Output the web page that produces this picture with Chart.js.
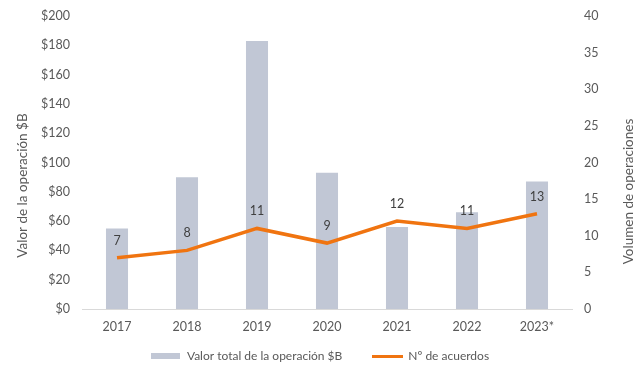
<!DOCTYPE html>
<html><head><meta charset="utf-8">
<script src="https://cdn.jsdelivr.net/npm/chart.js@4.4.0/dist/chart.umd.min.js"></script>
<style>html,body{margin:0;padding:0;background:#fff}#wrap{width:640px;height:378px}</style>
</head><body><div id="wrap"><canvas id="c" width="640" height="378"></canvas></div>
<script>
const categories = ['2017','2018','2019','2020','2021','2022','2023*'];
const dealValue = [55, 90, 183, 93, 56, 66, 87];
const dealCount = [7, 8, 11, 9, 12, 11, 13];
const leftTicks = [0,20,40,60,80,100,120,140,160,180,200];
const rightTicks = [0,5,10,15,20,25,30,35,40];
const leftTitle = 'Valor de la operación $B';
const rightTitle = 'Volumen de operaciones';

const BAR = '#C1C7D5', LINE = '#F07410', TXT = '#595959';
const FONT = 'Lato';

function swatch(w,h,color){const c=document.createElement('canvas');c.width=w;c.height=h;const x=c.getContext('2d');x.fillStyle=color;x.fillRect(0,0,w,h);return c;}
const barSw = swatch(29,6,BAR), lineSw = swatch(31,3,LINE);

const labelPlugin = {
  id:'lbl',
  afterDatasetsDraw(chart){
    const meta = chart.getDatasetMeta(0);
    const ctx = chart.ctx;
    ctx.save();
    ctx.font = '12.5px '+FONT; ctx.fillStyle='#404040'; ctx.textAlign='center'; ctx.textBaseline='bottom';
    meta.data.forEach((p,i)=>{ ctx.fillText(String(dealCount[i]), p.x, p.y-11); });
    ctx.restore();
  }
};
const titlePlugin = {
  id:'axtitles',
  afterDraw(chart){
    const ctx = chart.ctx, a = chart.chartArea;
    ctx.save();
    ctx.font = '13.5px '+FONT; ctx.fillStyle=TXT; ctx.textAlign='center'; ctx.textBaseline='middle';
    const yl = chart.scales.y, yr = chart.scales.y1;
    ctx.save(); ctx.translate(yl.left+23, (a.top+a.bottom)/2+23); ctx.rotate(-Math.PI/2); ctx.fillText(leftTitle,0,0); ctx.restore();
    ctx.save(); ctx.translate(yr.right-11, (a.top+a.bottom)/2+29); ctx.rotate(-Math.PI/2); ctx.fillText(rightTitle,0,0); ctx.restore();
    ctx.restore();
  }
};

new Chart(document.getElementById('c'),{
  data:{labels:categories,datasets:[
    {type:'line',label:'Nº de acuerdos',data:dealCount,yAxisID:'y1',borderColor:LINE,backgroundColor:LINE,borderWidth:3.5,pointRadius:0,tension:0,order:0,pointStyle:lineSw},
    {type:'bar',label:'Valor total de la operación $B\u2003\u2003',data:dealValue,yAxisID:'y',backgroundColor:BAR,barPercentage:0.315,categoryPercentage:1,order:1,pointStyle:barSw}
  ]},
  options:{
    responsive:false,animation:false,
    layout:{padding:{top:0,left:0,right:0,bottom:6}},
    plugins:{
      legend:{position:'bottom',reverse:true,labels:{usePointStyle:true,pointStyleWidth:30,color:TXT,font:{family:FONT,size:12},padding:12,boxHeight:8}},
      tooltip:{enabled:false}
    },
    scales:{
      x:{grid:{display:false,drawTicks:false},border:{color:'#D9D9D9',width:1},ticks:{color:TXT,font:{family:FONT,size:12.5},padding:10},
         afterFit(a){a.height=a.height-6;}},
      y:{position:'left',min:0,max:200,afterBuildTicks(a){a.ticks=leftTicks.map(v=>({value:v}));},
         afterFit(a){a.width=82;a.paddingTop=16;a.paddingBottom=8;},
         grid:{display:false,drawTicks:false},border:{display:false},
         ticks:{color:TXT,font:{family:FONT,size:12.5},padding:12,callback:v=>'$'+v}},
      y1:{position:'right',min:0,max:40,afterBuildTicks(a){a.ticks=rightTicks.map(v=>({value:v}));},
         afterFit(a){a.width=68;a.paddingTop=16;a.paddingBottom=8;},
         grid:{display:false,drawTicks:false},border:{display:false},
         ticks:{color:TXT,font:{family:FONT,size:12.5},padding:12}}
    }
  },
  plugins:[labelPlugin,titlePlugin]
});
</script></body></html>
